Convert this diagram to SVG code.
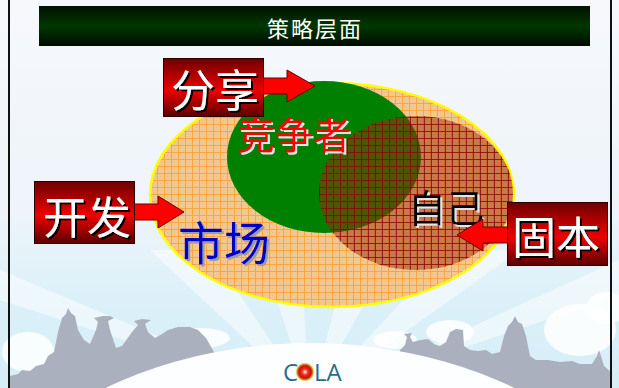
<svg xmlns="http://www.w3.org/2000/svg" width="619" height="388" viewBox="0 0 619 388">
  <style>
    .cjk { font-family: "Noto Sans CJK SC", "Noto Sans", sans-serif; text-anchor: middle; }
    .boxText { font-size: 44px; fill: #ffffff; filter: url(#dropDark); }
    .arrow { fill: #ff0000; stroke: #6a0000; stroke-width: 1; }
    .box { fill: url(#boxGrad); stroke: #2a0000; stroke-width: 1; }
    .sky { fill: #ffffff; }
    .city { fill: #aab0bd; }
    .cloud { fill: #ffffff; opacity: 0.85; }
    .logo { font-family: "Open Sans", "Noto Sans", sans-serif; font-size: 24px; fill: #2b6c8c; }
  </style>
  <defs>
    <filter id="dropDark" x="-10%" y="-10%" width="130%" height="130%">
      <feDropShadow dx="2" dy="2" stdDeviation="0.4" flood-color="#000000" flood-opacity="1"/>
    </filter>
    <filter id="dropLight" x="-10%" y="-10%" width="130%" height="130%">
      <feDropShadow dx="2" dy="2" stdDeviation="0.4" flood-color="#e4e4e4" flood-opacity="1"/>
    </filter>
    <filter id="dropGrey" x="-10%" y="-10%" width="130%" height="130%">
      <feDropShadow dx="2" dy="2" stdDeviation="0.4" flood-color="#9a9aa8" flood-opacity="1"/>
    </filter>
    <linearGradient id="bgGrad" x1="0" y1="0" x2="0" y2="1">
      <stop offset="0" stop-color="#f6f8fc"/>
      <stop offset="0.55" stop-color="#eef4fa"/>
      <stop offset="0.78" stop-color="#dbf0f9"/>
      <stop offset="1" stop-color="#d6eef8"/>
    </linearGradient>
    <linearGradient id="titleGrad" x1="0" y1="0" x2="0" y2="1">
      <stop offset="0" stop-color="#001200"/>
      <stop offset="0.5" stop-color="#003800"/>
      <stop offset="1" stop-color="#000a00"/>
    </linearGradient>
    <linearGradient id="boxGrad" x1="0" y1="0" x2="0" y2="1">
      <stop offset="0" stop-color="#6e0000"/>
      <stop offset="0.55" stop-color="#ee0000"/>
      <stop offset="1" stop-color="#5a0000"/>
    </linearGradient>
    <radialGradient id="oGrad" cx="0.5" cy="0.5" r="0.5">
      <stop offset="0" stop-color="#ffffff"/>
      <stop offset="0.3" stop-color="#ff3020"/>
      <stop offset="0.65" stop-color="#c01010"/>
      <stop offset="0.85" stop-color="#d8a020"/>
      <stop offset="1" stop-color="#f0e080" stop-opacity="0.3"/>
    </radialGradient>
    <pattern id="marketGrid" patternUnits="userSpaceOnUse" x="150" y="82" width="7" height="7">
      <rect width="7" height="7" fill="#f3c890"/>
      <rect x="3" y="3" width="1" height="1" fill="#ebbd80"/>
      <rect x="0" y="0" width="7" height="1" fill="#f9a640"/>
      <rect x="0" y="0" width="1" height="7" fill="#f9a640"/>
    </pattern>
    <pattern id="selfGrid" patternUnits="userSpaceOnUse" x="319" y="117" width="7" height="7">
      <rect x="0" y="0" width="7" height="1" fill="#8a0000" fill-opacity="0.75"/>
      <rect x="0" y="0" width="1" height="7" fill="#8a0000" fill-opacity="0.75"/>
    </pattern>
  </defs>

  <!-- backdrop -->
  <rect x="0" y="0" width="619" height="388" fill="url(#bgGrad)"/>
  <g opacity="0.5">
    <polygon class="sky" points="310,400 150,250 210,250"/>
    <polygon class="sky" points="310,400 260,250 300,250"/>
    <polygon class="sky" points="310,400 350,250 395,250"/>
    <polygon class="sky" points="310,400 450,250 520,250"/>
    <polygon class="sky" points="310,400 0,270 0,300"/>
    <polygon class="sky" points="310,400 619,260 619,295"/>
  </g>

  <!-- clouds -->
  <g>
    <ellipse class="cloud" cx="28" cy="352" rx="26" ry="20"/>
    <ellipse class="cloud" cx="200" cy="338" rx="30" ry="10"/>
    <ellipse class="cloud" cx="395" cy="340" rx="22" ry="9"/>
    <ellipse class="cloud" cx="450" cy="332" rx="24" ry="12"/>
    <ellipse class="cloud" cx="580" cy="330" rx="36" ry="26"/>
    <ellipse class="cloud" cx="606" cy="308" rx="20" ry="16"/>
  </g>

  <!-- skyline -->
  <path class="city" d="M10,388 L10,376 L18,374 L22,370 L30,371 L36,366 L44,364 L48,356 L54,352 L58,332 L62,318 L66,314 L68,308 L71,313 L75,316 L78,330 L84,340 L90,344 L96,330 L98,322 L94,318 L103,316 L110,316 L114,318 L108,321 L110,330 L116,348 L122,346 L132,332 L138,325 L134,321 L142,319 L151,320 L145,324 L148,332 L155,338 L162,334 L168,330 L178,327 L190,327 L198,330 L206,338 L214,352 L214,388 Z"/>
  <path class="city" d="M400,388 L400,350 L405,345 L407,337 L404,334 L412,333 L410,337 L413,342 L420,340 L428,339 L434,344 L440,346 L446,342 L450,332 L456,329 L463,330 L464,346 L470,350 L478,351 L486,350 L492,354 L500,352 L504,336 L508,326 L512,322 L515,316 L518,322 L522,324 L526,336 L530,356 L536,360 L548,360 L560,362 L572,361 L580,364 L592,364 L597,356 L599,350 L601,356 L604,366 L611,372 L611,388 Z"/>

  <!-- ground dome -->
  <ellipse cx="310" cy="663" rx="400" ry="320" fill="#fdfeff"/>

  <!-- frame -->
  <rect x="8" y="0" width="2" height="388" fill="#111111"/>
  <rect x="610" y="0" width="2" height="388" fill="#111111"/>

  <!-- title bar -->
  <g id="title">
    <rect x="39" y="6" width="551" height="40" fill="url(#titleGrad)"/>
    <text class="cjk" x="315" y="37" font-size="22" letter-spacing="2" fill="#ffffff">策略层面</text>
  </g>

  <!-- market -->
  <g id="market">
    <ellipse cx="332" cy="195" rx="182" ry="112" fill="url(#marketGrid)" stroke="#ffff00" stroke-width="2.5"/>
  </g>

  <!-- competitors -->
  <g id="competitor">
    <ellipse cx="324" cy="157" rx="97" ry="76" fill="#008000"/>
  </g>

  <!-- self -->
  <g id="self">
    <ellipse cx="416" cy="193" rx="97" ry="77" fill="#a02a0c" fill-opacity="0.5"/>
    <ellipse cx="416" cy="193" rx="97" ry="77" fill="url(#selfGrid)"/>
  </g>

  <!-- circle labels -->
  <g id="labels">
    <text class="cjk" x="294" y="149" font-size="38" fill="#ff0000" filter="url(#dropLight)">竞争者</text>
    <text class="cjk" x="224" y="260" font-size="46" fill="#0000cc" filter="url(#dropGrey)">市场</text>
    <text class="cjk" x="446" y="222" font-size="38" fill="#000000" filter="url(#dropLight)">自己</text>
  </g>

  <!-- connectors -->
  <g id="connectors">
    <path class="arrow" d="M258,78 L287,78 L287,70 L315,86 L287,102 L287,94 L258,94 Z"/>
    <path class="arrow" d="M128,204 L158,204 L158,196 L184,212 L158,228 L158,220 L128,220 Z"/>
    <path class="arrow" d="M513,227 L483,227 L483,219 L457,235 L483,251 L483,243 L513,243 Z"/>
  </g>

  <!-- callout boxes -->
  <g id="share">
    <rect class="box" x="163.5" y="58.5" width="100" height="58"/>
    <text class="cjk boxText" x="215" y="107">分享</text>
  </g>
  <g id="develop">
    <rect class="box" x="34.5" y="181.5" width="100" height="62"/>
    <text class="cjk boxText" x="87" y="234">开发</text>
  </g>
  <g id="consolidate">
    <rect class="box" x="507.5" y="202.5" width="100" height="63"/>
    <text class="cjk boxText" x="556" y="254">固本</text>
  </g>

  <!-- logo -->
  <g id="logo">
    <text class="logo" x="283" y="381">C</text>
    <circle cx="305" cy="372" r="9.5" fill="url(#oGrad)"/>
    <text class="logo" x="314" y="381">LA</text>
  </g>
</svg>
